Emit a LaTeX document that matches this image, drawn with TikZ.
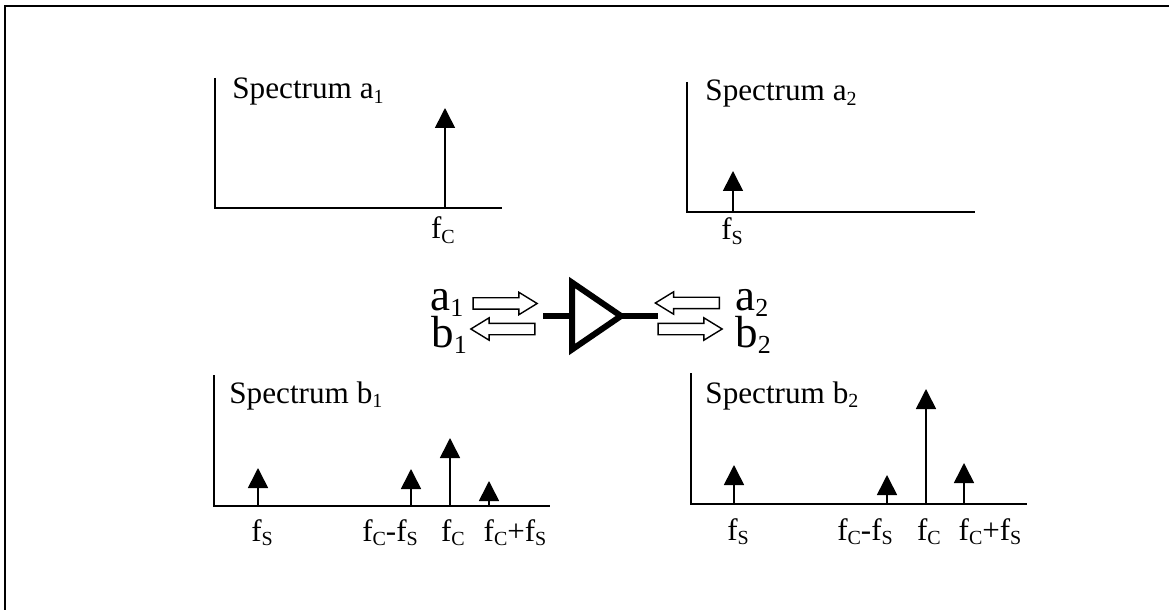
\documentclass[tikz,border=0pt]{standalone}
\usepackage{fontspec}
\setmainfont{Liberation Serif}
\usepackage{tikz}
\usetikzlibrary{shapes.geometric,shapes.arrows,arrows.meta,positioning}
\newcommand{\lowtext}[1]{\raisebox{-0.14em}{\fontsize{10}{12}\selectfont #1}}
\newcommand{\lowport}[1]{\raisebox{-0.14em}{\fontsize{13}{15}\selectfont #1}}

\begin{document}
\begin{tikzpicture}[
    x=0.5pt, y=-0.5pt,
    axis/.style={draw=black, line width=0.8pt},
    spike/.style={-{Triangle[length=10pt, width=10pt]}, draw=black, line width=0.8pt},
    title/.style={anchor=base west, inner sep=0pt, font=\fontsize{15.6}{18}\selectfont},
    freq/.style={anchor=base, inner sep=0pt, font=\fontsize{15.5}{18}\selectfont},
    port/.style={anchor=base west, inner sep=0pt, font=\fontsize{22.5}{26}\selectfont},
    wave/.style={single arrow, draw=black, line width=0.7pt, fill=white, inner sep=0pt,
        outer sep=0pt, text height=5pt, text depth=0pt, minimum height=32pt,
        single arrow head extend=2.75pt, single arrow tip angle=63},
    lead/.style={draw=black, line width=3pt}
]
\useasboundingbox (0,0) rectangle (1169,610);

% Outer frame
\coordinate (fbl) at (5,610);
\coordinate (ftl) at (5,6);
\coordinate (ftr) at (1169,6);
\draw[line width=1pt] (fbl) -- (ftl) -- (ftr);

% Spectrum a1
\draw[axis] (215,78) |- (502,208);
\node[title] (ta1) at (232,99) {Spectrum a\lowtext{1}};
\coordinate (a1c) at (445,208);
\coordinate (a1ct) at (445,108);
\draw[spike] (a1c) -- (a1ct);
\node[freq] (la1c) at (443,239) {f\lowtext{C}};

% Spectrum a2
\draw[axis] (687,82) |- (975,212);
\node[title] (ta2) at (705,101) {Spectrum a\lowtext{2}};
\coordinate (a2s) at (733,212);
\coordinate (a2st) at (733,171);
\draw[spike] (a2s) -- (a2st);
\node[freq] (la2s) at (732,240) {f\lowtext{S}};

% Amplifier and ports
\node[isosceles triangle, isosceles triangle stretches, draw=black, line width=3pt,
    inner sep=0pt, outer sep=0pt, minimum height=24.5pt, minimum width=33.5pt,
    anchor=lower side] (amp) at (572,316) {};
\coordinate (inp) at (543,316);
\coordinate (outp) at (658,316);
\draw[lead] (inp) -- (amp.lower side);
\draw[lead] (amp.apex) -- (outp);

\node[wave] (wa1) at (500.5,303.5) {};
\node[wave, shape border rotate=180] (wb1) at (507.5,329) {};
\node[wave, shape border rotate=180] (wa2) at (692,303) {};
\node[wave] (wb2) at (685.5,329) {};
\node[port] (pa1) at (430,310) {a\lowport{1}};
\node[port] (pb1) at (431,347) {b\lowport{1}};
\node[port] (pa2) at (735,310) {a\lowport{2}};
\node[port] (pb2) at (735,347) {b\lowport{2}};

% Spectrum b1
\draw[axis] (214,375) |- (550,506);
\node[title] (tb1) at (229,403) {Spectrum b\lowtext{1}};
\foreach \name/\px/\top in {s/258/468, d/411/469, c/450/438, u/489/481} {
    \coordinate (b1\name) at (\px,506);
    \coordinate (b1\name t) at (\px,\top);
    \draw[spike] (b1\name) -- (b1\name t);
}
\node[freq] (lb1s) at (262,541) {f\lowtext{S}};
\node[freq] (lb1d) at (390,541) {f\lowtext{C}-f\lowtext{S}};
\node[freq] (lb1c) at (453,541) {f\lowtext{C}};
\node[freq] (lb1u) at (515,541) {f\lowtext{C}+f\lowtext{S}};

% Spectrum b2
\draw[axis] (691,373) |- (1027,504);
\node[title] (tb2) at (705,403) {Spectrum b\lowtext{2}};
\foreach \name/\px/\top in {s/734/465, d/887/475, c/926/389, u/964/463} {
    \coordinate (b2\name) at (\px,504);
    \coordinate (b2\name t) at (\px,\top);
    \draw[spike] (b2\name) -- (b2\name t);
}
\node[freq] (lb2s) at (738,540) {f\lowtext{S}};
\node[freq] (lb2d) at (865,540) {f\lowtext{C}-f\lowtext{S}};
\node[freq] (lb2c) at (929,540) {f\lowtext{C}};
\node[freq] (lb2u) at (990,540) {f\lowtext{C}+f\lowtext{S}};

\end{tikzpicture}
\end{document}
